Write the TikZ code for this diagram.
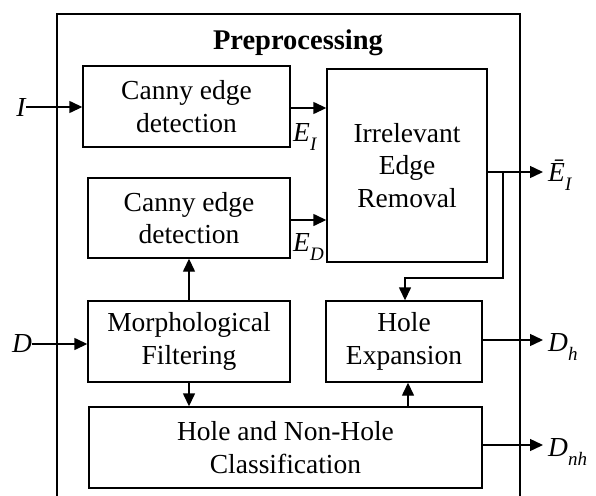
\documentclass[tikz,border=0pt]{standalone}
\usepackage{fontspec}
\setmainfont{Liberation Serif}
\usetikzlibrary{arrows.meta}
\newcommand\lsub[1]{\raisebox{-0.32em}{\fontsize{19}{19}\selectfont\itshape #1}}
\tikzset{
  box/.style={draw, line width=1.4pt, align=center, inner sep=0pt,
    font=\fontsize{27.5}{32.5}\selectfont},
  lbl/.style={font=\fontsize{27.5}{32}\selectfont\itshape, inner sep=0pt},
  arr/.style={line width=1.4pt, -{Triangle[length=13pt,width=12pt]}},
  ln/.style={line width=1.4pt},
}
\begin{document}
\begin{tikzpicture}[x=1pt,y=-1pt]
\useasboundingbox[fill=white] (0,0) rectangle (596,495);
% frame
\draw[ln] (57,500) -- (57,14) -- (520,14) -- (520,500);
\node[font=\fontsize{28.5}{32}\selectfont\bfseries, inner sep=0pt] (title) at (298,43) {Preprocessing};
% boxes
\node[box, minimum width=207pt, minimum height=81pt] (c1) at (186.5,106.5) {Canny edge\\detection};
\node[box, minimum width=202pt, minimum height=80pt] (c2) at (189,218) {Canny edge\\detection};
\node[box, minimum width=160pt, minimum height=193pt] (irr) at (407,165.5) {Irrelevant\\Edge\\Removal};
\node[box, minimum width=202pt, minimum height=81pt] (mf) at (189,341.5) {Morphological\\Filtering};
\node[box, minimum width=156pt, minimum height=81pt] (he) at (404,341.5) {Hole\\Expansion};
\node[box, minimum width=393pt, minimum height=81pt] (hnh) at (285.5,447.5) {Hole and Non-Hole\\Classification};
% labels
\node[lbl] (I) at (21,107) {I};
\node[lbl] (D) at (22,344) {D};
\node[lbl, anchor=north west] (EI) at (293,123) {E\lsub{I}};
\node[lbl, anchor=north west] (ED) at (293,233) {E\lsub{D}};
\node[lbl, anchor=west] (Eb) at (548,175) {\=E\lsub{I}};
\node[lbl, anchor=west] (Dh) at (548,347) {D\lsub{h}};
\node[lbl, anchor=west] (Dnh) at (548,452) {D\lsub{nh}};
\coordinate (b1) at (503,172);
\coordinate (b2) at (405,278);
\coordinate (tip) at (543,0);
% connectors
\draw[arr] (I.east) -- (I.east -| c1.west);
\draw[arr] ([yshift=-1.5pt]c1.east) -- ([yshift=-1.5pt]c1.east -| irr.west);
\draw[arr] ([yshift=-2pt]c2.east) -- ([yshift=-2pt]c2.east -| irr.west);
\draw[arr] (irr.east |- b1) -- (b1 -| tip);
\draw[arr] (b1) |- (b2) -- (b2 |- he.north);
\draw[arr] (D.east) -- (D.east -| mf.west);
\draw[arr] (mf.north) -- (c2.south);
\draw[arr] (mf.south) -- (mf.south |- hnh.north);
\draw[arr] ([xshift=4pt]he.south |- hnh.north) -- ([xshift=4pt]he.south);
\draw[arr] ([yshift=1.5pt]he.east) -- ([yshift=1.5pt]he.east -| tip);
\draw[arr] ([yshift=2.5pt]hnh.east) -- ([yshift=2.5pt]hnh.east -| tip);
\end{tikzpicture}
\end{document}
